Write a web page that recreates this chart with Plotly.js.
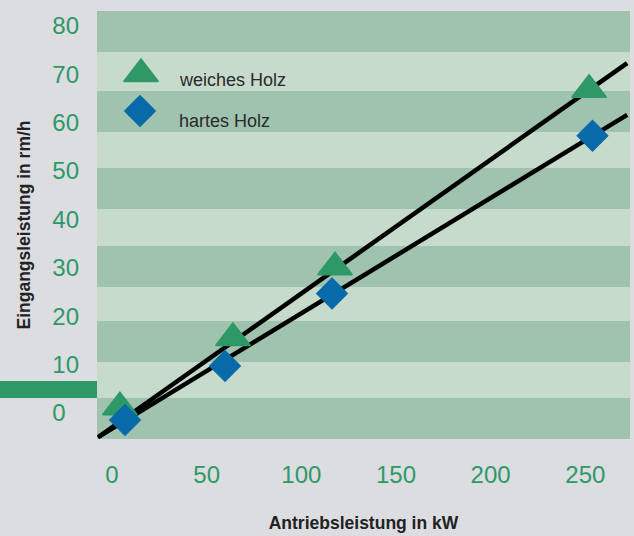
<!DOCTYPE html>
<html>
<head>
<meta charset="utf-8">
<script src="https://cdn.plot.ly/plotly-3.0.1.min.js"></script>
<style>
  html, body { margin: 0; padding: 0; background: #dcdde0; }
  #chart { width: 634px; height: 536px; }
</style>
</head>
<body>
<div id="chart"></div>
<script>
// ---- data ----
const seriesNames = ["weiches Holz", "hartes Holz"];
const powerSoft = [4.2, 63.9, 117.8, 252.0];     // Antriebsleistung kW
const rateSoft  = [1.2, 15.5, 30.1, 66.8];       // Eingangsleistung rm/h
const powerHard = [6.9, 59.7, 116.2, 253.8];
const rateHard  = [-1.45, 9.7, 24.7, 57.3];
const fitPower  = [-7.4, 272.1];
const fitSoft   = [-5.0, 72.3];
const fitHard   = [-5.0, 61.6];
const xTickVals = [0, 50, 100, 150, 200, 250];
const xTickText = ["0", "50", "100", "150", "200", "250"];
const yTickVals = [0, 10, 20, 30, 40, 50, 60, 70, 80];
const yTickText = ["0\u2007", "10", "20", "30", "40", "50", "60", "70", "80"];

// ---- styling ----
const GREEN = "#2e9866";
const BLUE = "#086aa8";
const DARK = "#9fc3ae";
const LIGHT = "#c7dbcd";
const BG = "#dcdde0";
const FONT = "'Liberation Sans', Arial, sans-serif";

// stripe bands in paper fractions of plot height (dark bands)
const plotTopPx = 11, plotBotPx = 439;
const darkBandsPx = [[11, 52], [91, 132], [168, 209], [246, 287], [321, 362], [398, 439]];
const toPaperY = p => (plotBotPx - p) / (plotBotPx - plotTopPx);

const shapes = darkBandsPx.map(b => ({
  type: "rect", xref: "paper", yref: "paper", layer: "below",
  x0: 0, x1: 1, y0: toPaperY(b[1]), y1: toPaperY(b[0]),
  fillcolor: DARK, line: { width: 0 }
}));
// decorative green bar at the left edge
shapes.push({
  type: "rect", xref: "paper", yref: "paper", layer: "above",
  x0: -97 / 533, x1: 0, y0: toPaperY(398), y1: toPaperY(381),
  fillcolor: GREEN, line: { width: 0 }
});

const traces = [
  { x: fitPower, y: fitSoft, mode: "lines", line: { color: "#000", width: 4.5 }, showlegend: false, hoverinfo: "skip" },
  { x: fitPower, y: fitHard, mode: "lines", line: { color: "#000", width: 4.5 }, showlegend: false, hoverinfo: "skip" },
  { x: powerSoft, y: rateSoft, name: seriesNames[0], mode: "markers",
    marker: { symbol: "triangle-up", size: 30, color: GREEN, line: { color: GREEN, width: 1.5 } }, showlegend: false },
  { x: powerHard, y: rateHard, name: seriesNames[1], mode: "markers",
    marker: { symbol: "diamond", size: 25, color: BLUE, line: { width: 0 } }, showlegend: false },
  // custom legend symbols (paper-like overlay axes)
  { x: [0.0826], y: [0.853], xaxis: "x2", yaxis: "y2", mode: "markers",
    marker: { symbol: "triangle-up", size: 30, color: GREEN, line: { color: GREEN, width: 1.5 } }, showlegend: false, hoverinfo: "skip" },
  { x: [0.0807], y: [0.7664], xaxis: "x2", yaxis: "y2", mode: "markers",
    marker: { symbol: "diamond", size: 25, color: BLUE, line: { width: 0 } }, showlegend: false, hoverinfo: "skip" }
];

const layout = {
  width: 634, height: 536,
  margin: { l: 97, r: 4, t: 11, b: 97, pad: 0 },
  paper_bgcolor: BG,
  plot_bgcolor: LIGHT,
  showlegend: false,
  font: { family: FONT, color: GREEN },
  xaxis: {
    range: [-7.9, 273.6], tickvals: xTickVals, ticktext: xTickText,
    showgrid: false, zeroline: false, showline: false, ticks: "",
    ticklabelstandoff: 19,
    tickfont: { size: 24, color: GREEN, family: FONT },
    title: { text: "Antriebsleistung in kW", standoff: 29,
             font: { size: 17.5, color: "#222", family: FONT, weight: "bold" } },
    fixedrange: true
  },
  yaxis: {
    range: [-5.37, 83.06], tickvals: yTickVals, ticktext: yTickText,
    showgrid: false, zeroline: false, showline: false, ticks: "",
    ticklabelstandoff: 17,
    tickfont: { size: 24, color: GREEN, family: FONT },
    title: { text: "Eingangsleistung in rm/h", standoff: 17,
             font: { size: 17.5, color: "#222", family: FONT, weight: "bold" } },
    fixedrange: true
  },
  xaxis2: { overlaying: "x", range: [0, 1], visible: false, fixedrange: true },
  yaxis2: { overlaying: "y", range: [0, 1], visible: false, fixedrange: true },
  shapes: shapes,
  annotations: [
    { xref: "paper", yref: "paper", x: (177 - 97) / 533, y: toPaperY(80),
      xanchor: "left", yanchor: "middle", showarrow: false, text: seriesNames[0],
      font: { size: 18, color: "#2a2a2a", family: FONT } },
    { xref: "paper", yref: "paper", x: (177 - 97) / 533, y: toPaperY(121),
      xanchor: "left", yanchor: "middle", showarrow: false, text: seriesNames[1],
      font: { size: 18, color: "#2a2a2a", family: FONT } }
  ]
};

Plotly.newPlot("chart", traces, layout, { staticPlot: true, displayModeBar: false });
</script>
</body>
</html>
